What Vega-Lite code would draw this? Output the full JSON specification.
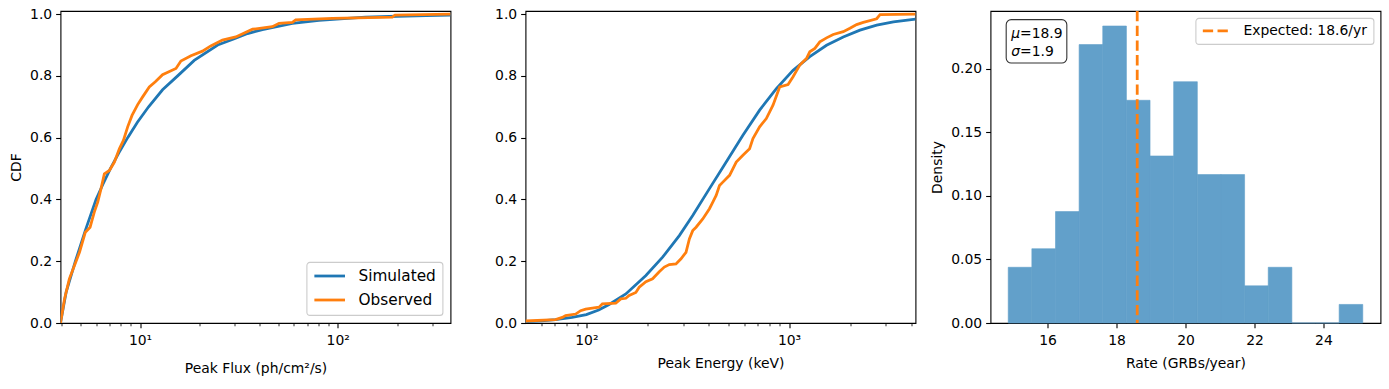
{
  "$schema": "https://vega.github.io/schema/vega-lite/v6.json",
  "background": "white",
  "padding": {"left": 8.5, "top": 6, "right": 8, "bottom": 5},
  "bounds": "flush",
  "spacing": 75,
  "config": {
    "font": "DejaVu Sans",
    "view": {"stroke": "#000000", "strokeWidth": 1.1},
    "axis": {
      "domain": false, "grid": false,
      "labelFont": "DejaVu Sans", "labelFontSize": 13.9, "labelColor": "#000000",
      "titleFont": "DejaVu Sans", "titleFontSize": 13.9, "titleFontWeight": "normal", "titleColor": "#000000",
      "tickColor": "#000000", "tickWidth": 1.1, "tickSize": 4.86, "labelPadding": 4,
      "labelFlush": false, "labelOverlap": false, "labelBound": false
    },
    "axisX": {"labelPadding": 5.5},
    "legend": {
      "title": null, "labelFont": "DejaVu Sans", "labelColor": "#000000",
      "fillColor": "rgba(255,255,255,0.8)", "strokeColor": "#cccccc", "strokeWidth": 1.1, "cornerRadius": 3
    }
  },
  "resolve": {"scale": {"color": "independent"}, "legend": {"color": "independent"}},
  "datasets": {
    "flux_sim": [
      {"flux": 3.96, "cdf": 0}, {"flux": 4.08, "cdf": 0.045}, {"flux": 4.23, "cdf": 0.1}, {"flux": 4.71, "cdf": 0.2},
      {"flux": 5.29, "cdf": 0.3}, {"flux": 5.99, "cdf": 0.4}, {"flux": 6.5, "cdf": 0.45}, {"flux": 7.08, "cdf": 0.5},
      {"flux": 7.8, "cdf": 0.55}, {"flux": 8.66, "cdf": 0.6}, {"flux": 9.7, "cdf": 0.65}, {"flux": 11.05, "cdf": 0.7},
      {"flux": 13.0, "cdf": 0.755}, {"flux": 15.5, "cdf": 0.8}, {"flux": 18.8, "cdf": 0.85}, {"flux": 24.7, "cdf": 0.9},
      {"flux": 30, "cdf": 0.92}, {"flux": 35, "cdf": 0.937}, {"flux": 41.6, "cdf": 0.95}, {"flux": 59.0, "cdf": 0.97},
      {"flux": 80.4, "cdf": 0.98}, {"flux": 138, "cdf": 0.99}, {"flux": 200, "cdf": 0.993}, {"flux": 280, "cdf": 0.995},
      {"flux": 372, "cdf": 0.997}
    ],
    "flux_obs": [
      {"flux": 3.96, "cdf": 0}, {"flux": 4.15, "cdf": 0.078}, {"flux": 4.39, "cdf": 0.143}, {"flux": 4.66, "cdf": 0.186},
      {"flux": 4.94, "cdf": 0.229}, {"flux": 5.29, "cdf": 0.294}, {"flux": 5.59, "cdf": 0.31}, {"flux": 5.87, "cdf": 0.359},
      {"flux": 6.11, "cdf": 0.391}, {"flux": 6.35, "cdf": 0.435}, {"flux": 6.6, "cdf": 0.483}, {"flux": 7.0, "cdf": 0.494},
      {"flux": 7.42, "cdf": 0.521}, {"flux": 7.86, "cdf": 0.564}, {"flux": 8.24, "cdf": 0.591}, {"flux": 8.66, "cdf": 0.635},
      {"flux": 9.11, "cdf": 0.672}, {"flux": 9.73, "cdf": 0.707}, {"flux": 10.31, "cdf": 0.732}, {"flux": 11.14, "cdf": 0.764},
      {"flux": 11.95, "cdf": 0.781}, {"flux": 13.0, "cdf": 0.804}, {"flux": 15.2, "cdf": 0.824}, {"flux": 16.1, "cdf": 0.848},
      {"flux": 18.1, "cdf": 0.865}, {"flux": 20.7, "cdf": 0.88}, {"flux": 22.8, "cdf": 0.897}, {"flux": 26.1, "cdf": 0.916},
      {"flux": 30.5, "cdf": 0.926}, {"flux": 37.1, "cdf": 0.951}, {"flux": 46.7, "cdf": 0.959}, {"flux": 50.5, "cdf": 0.97},
      {"flux": 59.0, "cdf": 0.973}, {"flux": 61.3, "cdf": 0.981}, {"flux": 94, "cdf": 0.986}, {"flux": 189, "cdf": 0.99},
      {"flux": 195, "cdf": 0.997}, {"flux": 372, "cdf": 1.0}
    ],
    "ep_sim": [
      {"ep": 50.1, "cdf": 0.004}, {"ep": 60, "cdf": 0.007}, {"ep": 70.5, "cdf": 0.011}, {"ep": 85, "cdf": 0.018},
      {"ep": 100, "cdf": 0.027}, {"ep": 115, "cdf": 0.042}, {"ep": 129.5, "cdf": 0.06}, {"ep": 156.6, "cdf": 0.094},
      {"ep": 196.7, "cdf": 0.154}, {"ep": 237.8, "cdf": 0.213}, {"ep": 287.5, "cdf": 0.283}, {"ep": 334.8, "cdf": 0.348},
      {"ep": 404.9, "cdf": 0.435}, {"ep": 489.7, "cdf": 0.521}, {"ep": 592, "cdf": 0.608}, {"ep": 715.9, "cdf": 0.689},
      {"ep": 865.6, "cdf": 0.759}, {"ep": 1046.6, "cdf": 0.818}, {"ep": 1265.6, "cdf": 0.862}, {"ep": 1530.8, "cdf": 0.899},
      {"ep": 1850.9, "cdf": 0.926}, {"ep": 2237.7, "cdf": 0.948}, {"ep": 2706, "cdf": 0.964}, {"ep": 3272.7, "cdf": 0.975},
      {"ep": 4205, "cdf": 0.984}
    ],
    "ep_obs": [
      {"ep": 50.1, "cdf": 0.0065}, {"ep": 70.5, "cdf": 0.011}, {"ep": 76.1, "cdf": 0.018}, {"ep": 79, "cdf": 0.024},
      {"ep": 88.6, "cdf": 0.029}, {"ep": 93.7, "cdf": 0.04}, {"ep": 99.2, "cdf": 0.045}, {"ep": 107.1, "cdf": 0.048},
      {"ep": 115.5, "cdf": 0.051}, {"ep": 120, "cdf": 0.062}, {"ep": 139.7, "cdf": 0.064}, {"ep": 147.9, "cdf": 0.078},
      {"ep": 156.6, "cdf": 0.08}, {"ep": 162.6, "cdf": 0.089}, {"ep": 175.5, "cdf": 0.099}, {"ep": 182.3, "cdf": 0.116},
      {"ep": 196.7, "cdf": 0.134}, {"ep": 212.2, "cdf": 0.143}, {"ep": 228.9, "cdf": 0.166}, {"ep": 242.4, "cdf": 0.181},
      {"ep": 256.6, "cdf": 0.189}, {"ep": 276.8, "cdf": 0.191}, {"ep": 293.1, "cdf": 0.208}, {"ep": 310.2, "cdf": 0.229},
      {"ep": 322.3, "cdf": 0.272}, {"ep": 334.8, "cdf": 0.299}, {"ep": 347.8, "cdf": 0.31}, {"ep": 375.2, "cdf": 0.337},
      {"ep": 404.9, "cdf": 0.37}, {"ep": 420.6, "cdf": 0.391}, {"ep": 436.9, "cdf": 0.413}, {"ep": 453.8, "cdf": 0.445},
      {"ep": 471.4, "cdf": 0.456}, {"ep": 508.7, "cdf": 0.478}, {"ep": 548.8, "cdf": 0.521}, {"ep": 592, "cdf": 0.543},
      {"ep": 638.8, "cdf": 0.564}, {"ep": 663.5, "cdf": 0.597}, {"ep": 715.9, "cdf": 0.635}, {"ep": 772.3, "cdf": 0.662},
      {"ep": 833.3, "cdf": 0.705}, {"ep": 899.1, "cdf": 0.764}, {"ep": 988.6, "cdf": 0.772}, {"ep": 1046.6, "cdf": 0.797},
      {"ep": 1129.3, "cdf": 0.835}, {"ep": 1218.4, "cdf": 0.856}, {"ep": 1265.6, "cdf": 0.878}, {"ep": 1340.5, "cdf": 0.889},
      {"ep": 1418.8, "cdf": 0.91}, {"ep": 1530.8, "cdf": 0.923}, {"ep": 1651.6, "cdf": 0.934}, {"ep": 1850.9, "cdf": 0.943},
      {"ep": 1997, "cdf": 0.954}, {"ep": 2154.4, "cdf": 0.966}, {"ep": 2324.3, "cdf": 0.973}, {"ep": 2706, "cdf": 0.985},
      {"ep": 2810.6, "cdf": 0.998}, {"ep": 4205, "cdf": 1.0}
    ],
    "hist": [
      {"x0": 14.86, "x1": 15.545, "density": 0.0438}, {"x0": 15.545, "x1": 16.231, "density": 0.0584},
      {"x0": 16.231, "x1": 16.916, "density": 0.0876}, {"x0": 16.916, "x1": 17.601, "density": 0.2189},
      {"x0": 17.601, "x1": 18.287, "density": 0.2335}, {"x0": 18.287, "x1": 18.972, "density": 0.1751},
      {"x0": 18.972, "x1": 19.657, "density": 0.1313}, {"x0": 19.657, "x1": 20.343, "density": 0.1897},
      {"x0": 20.343, "x1": 21.028, "density": 0.1167}, {"x0": 21.028, "x1": 21.713, "density": 0.1167},
      {"x0": 21.713, "x1": 22.399, "density": 0.0292}, {"x0": 22.399, "x1": 23.084, "density": 0.0438},
      {"x0": 23.084, "x1": 23.769, "density": 0}, {"x0": 23.769, "x1": 24.455, "density": 0},
      {"x0": 24.455, "x1": 25.14, "density": 0.0146}
    ],
    "expected": [{"rate": 18.6}],
    "statbox": [{"x0": 14.801, "x1": 16.559, "y0": 0.2044, "y1": 0.2385}],
    "statlines": [
      {"x": 14.946, "y": 0.2272, "greek": "μ", "rest": "=18.9"},
      {"x": 14.946, "y": 0.2128, "greek": "σ", "rest": "=1.9"}
    ]
  },
  "hconcat": [
    {
      "width": 390, "height": 312,
      "layer": [
        {
          "data": {"name": "flux_sim"},
          "mark": {"type": "line", "strokeWidth": 2.78, "clip": true},
          "encoding": {
            "x": {"field": "flux", "type": "quantitative",
              "scale": {"type": "log", "domain": [3.96, 372], "nice": false},
              "axis": {"title": "Peak Flux (ph/cm²/s)", "titlePadding": 14.5,
                "values": [4, 5, 6, 7, 8, 9, 10, 20, 30, 40, 50, 60, 70, 80, 90, 100, 200, 300],
                "labelExpr": "datum.value == 10 ? '10¹' : (datum.value == 100 ? '10²' : '')",
                "tickSize": {"condition": {"test": "datum.value == 10 || datum.value == 100", "value": 4.86}, "value": 2.78},
                "tickWidth": {"condition": {"test": "datum.value == 10 || datum.value == 100", "value": 1.1}, "value": 0.83}}},
            "y": {"field": "cdf", "type": "quantitative",
              "scale": {"domain": [0, 1.01], "nice": false},
              "axis": {"title": "CDF", "titlePadding": 6, "values": [0, 0.2, 0.4, 0.6, 0.8, 1.0], "format": ".1f"}},
            "color": {"datum": "Simulated", "type": "nominal",
              "scale": {"domain": ["Simulated", "Observed"], "range": ["#1f77b4", "#ff7f0e"]},
              "legend": {"orient": "bottom-right", "offset": 7.6, "symbolType": "M-1,0H4", "symbolSize": 150,
                "symbolStrokeWidth": 2.78, "labelFontSize": 15.3, "labelOffset": 30, "rowPadding": 7, "padding": 6}}
          }
        },
        {
          "data": {"name": "flux_obs"},
          "mark": {"type": "line", "strokeWidth": 2.78, "clip": true},
          "encoding": {
            "x": {"field": "flux", "type": "quantitative"},
            "y": {"field": "cdf", "type": "quantitative"},
            "color": {"datum": "Observed", "type": "nominal"}
          }
        }
      ]
    },
    {
      "width": 390, "height": 312,
      "layer": [
        {
          "data": {"name": "ep_sim"},
          "mark": {"type": "line", "strokeWidth": 2.78, "clip": true},
          "encoding": {
            "x": {"field": "ep", "type": "quantitative",
              "scale": {"type": "log", "domain": [50.1, 4205], "nice": false},
              "axis": {"title": "Peak Energy (keV)", "titlePadding": 9.5,
                "values": [60, 70, 80, 90, 100, 200, 300, 400, 500, 600, 700, 800, 900, 1000, 2000, 3000, 4000],
                "labelExpr": "datum.value == 100 ? '10²' : (datum.value == 1000 ? '10³' : '')",
                "tickSize": {"condition": {"test": "datum.value == 100 || datum.value == 1000", "value": 4.86}, "value": 2.78},
                "tickWidth": {"condition": {"test": "datum.value == 100 || datum.value == 1000", "value": 1.1}, "value": 0.83}}},
            "y": {"field": "cdf", "type": "quantitative",
              "scale": {"domain": [0, 1.01], "nice": false},
              "axis": {"title": null, "values": [0, 0.2, 0.4, 0.6, 0.8, 1.0], "format": ".1f"}},
            "color": {"datum": "Simulated", "type": "nominal",
              "scale": {"domain": ["Simulated", "Observed"], "range": ["#1f77b4", "#ff7f0e"]},
              "legend": null}
          }
        },
        {
          "data": {"name": "ep_obs"},
          "mark": {"type": "line", "strokeWidth": 2.78, "clip": true},
          "encoding": {
            "x": {"field": "ep", "type": "quantitative"},
            "y": {"field": "cdf", "type": "quantitative"},
            "color": {"datum": "Observed", "type": "nominal"}
          }
        }
      ]
    },
    {
      "width": 390, "height": 312,
      "layer": [
        {
          "data": {"name": "hist"},
          "mark": {"type": "rect", "fill": "#62a0ca", "stroke": "#62a0ca", "strokeWidth": 0.6},
          "encoding": {
            "x": {"field": "x0", "type": "quantitative",
              "scale": {"domain": [14.346, 25.654], "nice": false, "zero": false},
              "axis": {"title": "Rate (GRBs/year)", "titlePadding": 9.5, "values": [16, 18, 20, 22, 24]}},
            "x2": {"field": "x1"},
            "y": {"field": "density", "type": "quantitative",
              "scale": {"domain": [0, 0.2453], "nice": false},
              "axis": {"title": "Density", "titlePadding": 6, "values": [0, 0.05, 0.1, 0.15, 0.2], "format": ".2f"}},
            "y2": {"datum": 0}
          }
        },
        {
          "data": {"name": "expected"},
          "mark": {"type": "rule", "strokeWidth": 2.78, "strokeDash": [10.3, 4.4]},
          "encoding": {
            "x": {"field": "rate", "type": "quantitative"},
            "color": {"datum": "Expected: 18.6/yr", "type": "nominal",
              "scale": {"range": ["#ff7f0e"]},
              "legend": {"orient": "top-right", "offset": 6.9, "symbolType": "M-1,0H4", "symbolSize": 124,
                "symbolStrokeWidth": 2.78, "symbolDash": [10.3, 4.4], "labelFontSize": 13.9, "labelOffset": 28, "padding": 5.9}}
          }
        },
        {
          "data": {"name": "statbox"},
          "mark": {"type": "rect", "fill": "white", "stroke": "#333333", "strokeWidth": 1.1, "cornerRadius": 5},
          "encoding": {
            "x": {"field": "x0", "type": "quantitative"},
            "x2": {"field": "x1"},
            "y": {"field": "y0", "type": "quantitative"},
            "y2": {"field": "y1"}
          }
        },
        {
          "data": {"name": "statlines"},
          "mark": {"type": "text", "align": "left", "baseline": "middle", "fontSize": 13.9, "fontStyle": "italic", "font": "DejaVu Sans", "color": "#000000"},
          "encoding": {
            "x": {"field": "x", "type": "quantitative"},
            "y": {"field": "y", "type": "quantitative"},
            "text": {"field": "greek"}
          }
        },
        {
          "data": {"name": "statlines"},
          "mark": {"type": "text", "align": "left", "baseline": "middle", "fontSize": 13.9, "dx": 8.8, "font": "DejaVu Sans", "color": "#000000"},
          "encoding": {
            "x": {"field": "x", "type": "quantitative"},
            "y": {"field": "y", "type": "quantitative"},
            "text": {"field": "rest"}
          }
        }
      ]
    }
  ]
}
